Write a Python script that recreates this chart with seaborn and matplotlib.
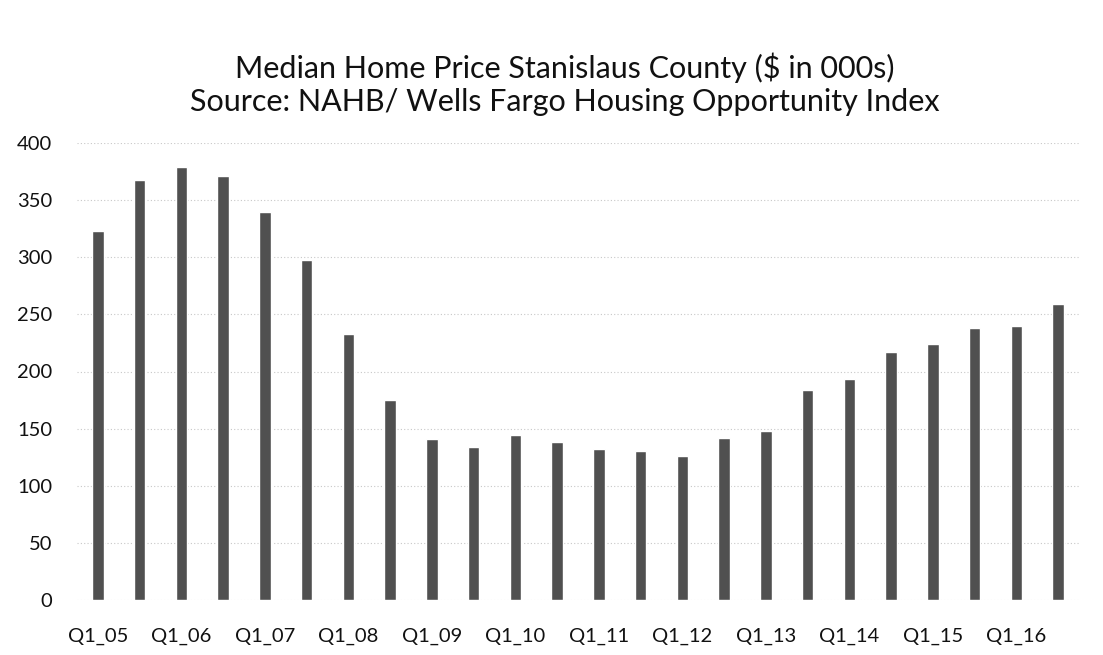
import matplotlib
matplotlib.use("Agg")
import matplotlib.pyplot as plt
import seaborn as sns
import pandas as pd

quarters = ["Q1_05", "Q3_05", "Q1_06", "Q3_06", "Q1_07", "Q3_07", "Q1_08", "Q3_08",
            "Q1_09", "Q3_09", "Q1_10", "Q3_10", "Q1_11", "Q3_11", "Q1_12", "Q3_12",
            "Q1_13", "Q3_13", "Q1_14", "Q3_14", "Q1_15", "Q3_15", "Q1_16", "Q3_16"]
prices = [323, 368, 379, 371, 340, 298, 233, 175, 141, 134, 144, 138,
          132, 130, 126, 142, 148, 184, 193, 217, 224, 238, 240, 259]
y_ticks = [0, 50, 100, 150, 200, 250, 300, 350, 400]
title = "Median Home Price Stanislaus County ($ in 000s)\nSource: NAHB/ Wells Fargo Housing Opportunity Index"

sns.set_theme(style="white")
plt.rcParams["font.family"] = ["Lato", "DejaVu Sans"]

df = pd.DataFrame({"quarter": quarters, "price": prices})

fig = plt.figure(figsize=(11.03, 6.55), dpi=100)
ax = fig.add_axes([77 / 1103, 1 - 600 / 655, (1079 - 77) / 1103, (600 - 143) / 655])

sns.barplot(data=df, x="quarter", y="price", color="#505050", saturation=1,
            width=0.27, ax=ax, zorder=3)

ax.set_ylim(0, 400)
ax.set_yticks(y_ticks)
ax.set_xlim(-0.5, len(quarters) - 0.5)
ax.set_xticks(range(0, len(quarters), 2))
ax.set_xticklabels(quarters[::2])
ax.set_xlabel("")
ax.set_ylabel("")
ax.grid(axis="y", color="#c8c8c8", linestyle=(0, (1, 2)), linewidth=0.8, zorder=0)
for s in ax.spines.values():
    s.set_visible(False)
ax.tick_params(axis="x", length=0, pad=20, labelsize=14.5, colors="#111111")
ax.tick_params(axis="y", length=0, pad=18, labelsize=14.5, colors="#111111")

fig.text(0.512, 1 - 84 / 655, title, ha="center", va="center", fontsize=22,
         color="#111111", linespacing=1.2)

fig.savefig("out.png", dpi=100, facecolor="white")
